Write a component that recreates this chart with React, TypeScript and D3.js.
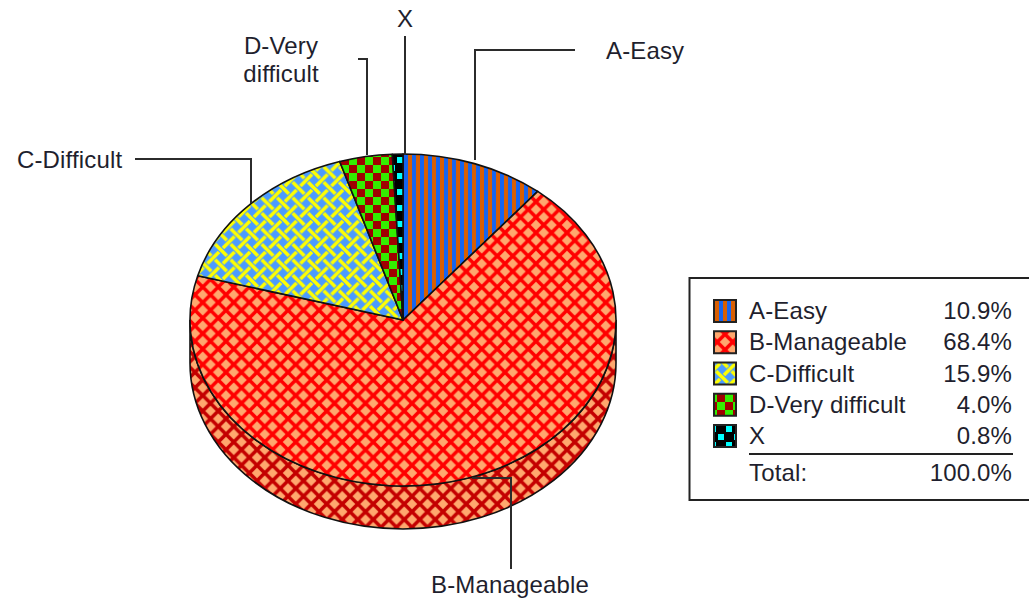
import React from "react";
import * as d3 from "d3";

const categories = ["A-Easy", "B-Manageable", "C-Difficult", "D-Very difficult", "X"];
const shares = [10.9, 68.4, 15.9, 4.0, 0.8];
const valueLabels = ["10.9%", "68.4%", "15.9%", "4.0%", "0.8%"];
const totalLabel = "100.0%";
const patternIds = ["pA", "pB", "pC", "pD", "pX"];
const swatchTransforms = [
  "translate(7,0)",
  "translate(717.25,342) scale(0.96875)",
  "translate(9,5) scale(0.96875)",
  "translate(13,10)",
  "translate(5,9)",
];

const W = 1029, H = 600;
const cx = 403, cy = 320, rx = 213, ry = 166, depth = 43;
const FONT = "'Liberation Sans', Arial, sans-serif";
const INK = "#1f1f2e";
const FS = 24;
const LS = 0.15;

const pie = d3.pie<number>().sort(null).value((d) => d)(shares);

function pt(a: number): [number, number] {
  return [cx + rx * Math.sin(a), cy - ry * Math.cos(a)];
}
function slicePath(a0: number, a1: number) {
  const [x0, y0] = pt(a0);
  const [x1, y1] = pt(a1);
  const large = a1 - a0 > Math.PI ? 1 : 0;
  return `M${cx},${cy}L${x0},${y0}A${rx},${ry} 0 ${large} 1 ${x1},${y1}Z`;
}
const sidePath = `M${cx - rx},${cy}A${rx},${ry} 0 0 0 ${cx + rx},${cy}L${cx + rx},${cy + depth}A${rx},${ry} 0 0 1 ${cx - rx},${cy + depth}Z`;

const rowY = d3.scalePoint<string>().domain(categories).range([311, 436]);

const leaders = [
  { d: "M475,160V50H575", label: "A-Easy", x: 606, y: 59, anchor: "start" },
  { d: "M472,478H511V569", label: "B-Manageable", x: 431, y: 593, anchor: "start" },
  { d: "M135,159H251V203", label: "C-Difficult", x: 17, y: 168, anchor: "start" },
  { d: "M358,59H367V155", label: "", x: 0, y: 0, anchor: "start" },
  { d: "M405,36V155", label: "X", x: 405, y: 27, anchor: "middle" },
];

function Lattice({ id, line }: { id: string; line: string }) {
  return (
    <pattern id={id} width={16} height={16} patternUnits="userSpaceOnUse" patternTransform="translate(435.25,318) scale(0.96875)">
      <rect width={16} height={16} fill="#ffa86e" />
      <path d="M-8,8L8,-8M0,16L16,0M8,24L24,8M-8,8L8,24M0,0L16,16M8,-8L24,8" stroke={line} strokeWidth={3.7} fill="none" />
    </pattern>
  );
}

export default function App() {
  return (
    <svg width={W} height={H} viewBox={`0 0 ${W} ${H}`} style={{ position: "absolute", left: 0, top: 0, background: "#fff" }} fontFamily={FONT} letterSpacing={LS}>
      <defs>
        <pattern id="pA" width={8} height={8} patternUnits="userSpaceOnUse" patternTransform="translate(404,0)">
          <rect width={8} height={8} fill="#1665f0" />
          <rect x={4} width={4} height={8} fill="#d95f02" />
        </pattern>
        <Lattice id="pB" line="#ff0000" />
        <Lattice id="pBd" line="#c40000" />
        <pattern id="pC" width={16} height={16} patternUnits="userSpaceOnUse" patternTransform="translate(4,2) scale(0.96875)">
          <rect width={16} height={16} fill="#4b9bff" />
          <path d="M-6,-6L6,6M10,-6L22,6M-6,10L6,22M10,10L22,22M2,14L14,2" stroke="#ffff00" strokeWidth={3.7} fill="none" />
        </pattern>
        <pattern id="pD" width={16} height={16} patternUnits="userSpaceOnUse" patternTransform="translate(5,13)">
          <rect width={16} height={16} fill="#33ee00" />
          <rect width={8} height={8} fill="#a00000" />
          <rect x={8} y={8} width={8} height={8} fill="#a00000" />
        </pattern>
        <pattern id="pX" width={16} height={16} patternUnits="userSpaceOnUse" patternTransform="translate(12,12)">
          <rect width={16} height={16} fill="#000" />
          <rect x={1} y={1} width={6} height={6} fill="#00ffff" />
          <rect x={9} y={9} width={6} height={6} fill="#00ffff" />
        </pattern>
        {patternIds.map((p, i) => (
          <pattern key={p} id={`s${p}`} href={`#${p}`} patternTransform={swatchTransforms[i]} />
        ))}
      </defs>

      <path d={sidePath} fill="url(#pBd)" stroke="#111" strokeWidth={1.6} />
      {pie.map((s, i) => (
        <path key={categories[i]} d={slicePath(s.startAngle, s.endAngle)} fill={`url(#${patternIds[i]})`} stroke="#111" strokeWidth={1.6} strokeLinejoin="round" />
      ))}

      {leaders.map((l, i) => (
        <path key={i} d={l.d} fill="none" stroke="#2b2b2b" strokeWidth={2} />
      ))}
      {leaders.filter((l) => l.label).map((l) => (
        <text key={l.label} x={l.x} y={l.y} fontSize={FS} textAnchor={l.anchor as "start"} fill={INK}>{l.label}</text>
      ))}
      <text x={281} y={54} fontSize={FS} textAnchor="middle" fill={INK}>D-Very</text>
      <text x={281} y={82} fontSize={FS} textAnchor="middle" fill={INK}>difficult</text>

      <rect x={689.5} y={278} width={360} height={222} fill="#fff" stroke="#222" strokeWidth={2} />
      {categories.map((c, i) => {
        const y = rowY(c)!;
        return (
          <g key={c}>
            <rect x={714} y={y - 11} width={22} height={22} fill={`url(#s${patternIds[i]})`} stroke="#222" strokeWidth={2} />
            <text x={749} y={y + 8} fontSize={FS} fill={INK}>{c}</text>
            <text x={1012} y={y + 8} fontSize={FS} textAnchor="end" fill={INK}>{valueLabels[i]}</text>
          </g>
        );
      })}
      <line x1={749} x2={1013} y1={454} y2={454} stroke="#222" strokeWidth={2} />
      <text x={749} y={481} fontSize={FS} fill={INK}>Total:</text>
      <text x={1012} y={481} fontSize={FS} textAnchor="end" fill={INK}>{totalLabel}</text>
    </svg>
  );
}
